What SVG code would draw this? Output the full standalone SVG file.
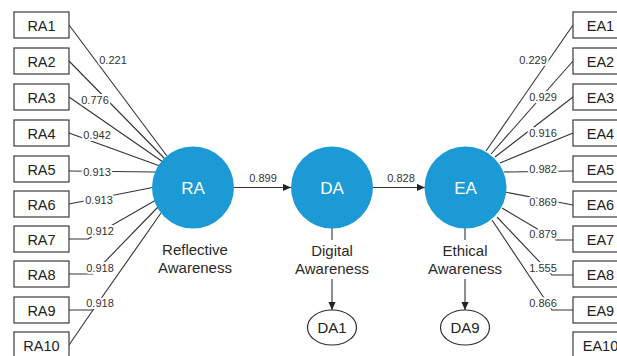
<svg xmlns="http://www.w3.org/2000/svg" width="617" height="356" viewBox="0 0 617 356">
  <defs>
    <style>
      .bg { fill: #ffffff; }
      .box rect { fill: #ffffff; stroke: #3a3a3a; stroke-width: 1.2; }
      .box text { font-family: "Liberation Sans", Arial, sans-serif; font-size: 14.5px; fill: #222; text-anchor: middle; }
      .lv circle { fill: #1b9ad6; }
      .lv text.in { font-family: "Liberation Sans", Arial, sans-serif; font-size: 17px; fill: #ffffff; text-anchor: middle; }
      .name { font-family: "Liberation Sans", Arial, sans-serif; font-size: 15px; fill: #2a2a2a; text-anchor: middle; }
      .ell ellipse { fill: #ffffff; stroke: #2a2a2a; stroke-width: 1.2; }
      .ell text { font-family: "Liberation Sans", Arial, sans-serif; font-size: 15px; fill: #222; text-anchor: middle; }
      .edge { fill: none; stroke: #333; stroke-width: 1.1; }
      .w { font-family: "Liberation Sans", Arial, sans-serif; font-size: 11px; fill: #333; text-anchor: middle;
           stroke: #ffffff; stroke-width: 4; paint-order: stroke; stroke-linejoin: round; }
    </style>
    <marker id="arr" viewBox="0 0 8 8" refX="8" refY="4" markerWidth="8" markerHeight="8" markerUnits="userSpaceOnUse" orient="auto">
      <path d="M0,0.4 L8,4 L0,7.6 Z" fill="#222"/>
    </marker>
  </defs>

  <rect class="bg" x="0" y="0" width="617" height="356"/>

  <!-- connectors -->
  <g id="connectors">
    <!-- RA indicators -->
    <path class="edge" d="M69,25 L167,156"/>
    <path class="edge" d="M69,61 L165,159"/>
    <path class="edge" d="M69,97 L163,162"/>
    <path class="edge" d="M69,133 L160,166"/>
    <path class="edge" d="M69,171 L155,172"/>
    <path class="edge" d="M69,204 L155,187"/>
    <path class="edge" d="M69,239 L88,239 L156,200"/>
    <path class="edge" d="M69,274 L93,274 L158,207"/>
    <path class="edge" d="M69,310 L93,310 L161,213"/>
    <path class="edge" d="M69,345 L93,310"/>
    <!-- EA indicators -->
    <path class="edge" d="M573,25 L486,151"/>
    <path class="edge" d="M573,61 L491,154"/>
    <path class="edge" d="M573,97 L495,157"/>
    <path class="edge" d="M573,133 L500,163"/>
    <path class="edge" d="M573,171 L504,172"/>
    <path class="edge" d="M573,205 L505,192"/>
    <path class="edge" d="M573,240 L556,240 L502,208"/>
    <path class="edge" d="M573,275 L552,275 L497,217"/>
    <path class="edge" d="M573,310 L552,310 L492,220"/>
    <!-- structural paths -->
    <path class="edge" d="M234,187.5 L291,187.5" marker-end="url(#arr)"/>
    <path class="edge" d="M373,187.5 L425,187.5" marker-end="url(#arr)"/>
    <!-- latent to observed -->
    <path class="edge" d="M332,228 L332,240"/>
    <path class="edge" d="M332,279 L332,310" marker-end="url(#arr)"/>
    <path class="edge" d="M465,228 L465,240"/>
    <path class="edge" d="M465,279 L465,310" marker-end="url(#arr)"/>

    <!-- loadings -->
    <text class="w" x="113" y="64">0.221</text>
    <text class="w" x="95" y="104">0.776</text>
    <text class="w" x="97" y="139">0.942</text>
    <text class="w" x="97" y="176">0.913</text>
    <text class="w" x="99" y="204">0.913</text>
    <text class="w" x="100" y="235">0.912</text>
    <text class="w" x="100" y="272">0.918</text>
    <text class="w" x="100" y="307">0.918</text>

    <text class="w" x="533" y="64">0.229</text>
    <text class="w" x="543" y="101">0.929</text>
    <text class="w" x="543" y="137">0.916</text>
    <text class="w" x="543" y="173">0.982</text>
    <text class="w" x="543" y="206">0.869</text>
    <text class="w" x="543" y="238">0.879</text>
    <text class="w" x="543" y="272">1.555</text>
    <text class="w" x="543" y="307">0.866</text>

    <text class="w" x="263" y="182">0.899</text>
    <text class="w" x="401" y="182">0.828</text>
  </g>

  <!-- RA indicator boxes -->
  <g id="RA1" class="box"><rect x="14" y="12" width="55" height="26"/><text x="41.5" y="30.5">RA1</text></g>
  <g id="RA2" class="box"><rect x="14" y="48" width="55" height="26"/><text x="41.5" y="66.5">RA2</text></g>
  <g id="RA3" class="box"><rect x="14" y="84" width="55" height="26"/><text x="41.5" y="102.5">RA3</text></g>
  <g id="RA4" class="box"><rect x="14" y="120" width="55" height="26"/><text x="41.5" y="138.5">RA4</text></g>
  <g id="RA5" class="box"><rect x="14" y="156" width="55" height="26"/><text x="41.5" y="174.5">RA5</text></g>
  <g id="RA6" class="box"><rect x="14" y="191" width="55" height="26"/><text x="41.5" y="209.5">RA6</text></g>
  <g id="RA7" class="box"><rect x="14" y="226" width="55" height="26"/><text x="41.5" y="244.5">RA7</text></g>
  <g id="RA8" class="box"><rect x="14" y="261" width="55" height="26"/><text x="41.5" y="279.5">RA8</text></g>
  <g id="RA9" class="box"><rect x="14" y="297" width="55" height="26"/><text x="41.5" y="315.5">RA9</text></g>
  <g id="RA10" class="box"><rect x="14" y="332" width="55" height="26"/><text x="41.5" y="350.5">RA10</text></g>

  <!-- EA indicator boxes -->
  <g id="EA1" class="box"><rect x="573" y="12" width="55" height="26"/><text x="600.5" y="30.5">EA1</text></g>
  <g id="EA2" class="box"><rect x="573" y="48" width="55" height="26"/><text x="600.5" y="66.5">EA2</text></g>
  <g id="EA3" class="box"><rect x="573" y="84" width="55" height="26"/><text x="600.5" y="102.5">EA3</text></g>
  <g id="EA4" class="box"><rect x="573" y="120" width="55" height="26"/><text x="600.5" y="138.5">EA4</text></g>
  <g id="EA5" class="box"><rect x="573" y="156" width="55" height="26"/><text x="600.5" y="174.5">EA5</text></g>
  <g id="EA6" class="box"><rect x="573" y="191" width="55" height="26"/><text x="600.5" y="209.5">EA6</text></g>
  <g id="EA7" class="box"><rect x="573" y="226" width="55" height="26"/><text x="600.5" y="244.5">EA7</text></g>
  <g id="EA8" class="box"><rect x="573" y="261" width="55" height="26"/><text x="600.5" y="279.5">EA8</text></g>
  <g id="EA9" class="box"><rect x="573" y="297" width="55" height="26"/><text x="600.5" y="315.5">EA9</text></g>
  <g id="EA10" class="box"><rect x="573" y="332" width="55" height="26"/><text x="600.5" y="350.5">EA10</text></g>

  <!-- latent variables -->
  <g id="RA" class="lv">
    <circle cx="193" cy="187.5" r="41"/>
    <text class="in" x="193" y="193.5">RA</text>
    <text class="name" x="195" y="255">Reflective</text>
    <text class="name" x="195" y="273">Awareness</text>
  </g>
  <g id="DA" class="lv">
    <circle cx="332" cy="187.5" r="41"/>
    <text class="in" x="332" y="193.5">DA</text>
    <text class="name" x="332" y="256">Digital</text>
    <text class="name" x="332" y="274">Awareness</text>
  </g>
  <g id="EA" class="lv">
    <circle cx="465.5" cy="187.5" r="41"/>
    <text class="in" x="465.5" y="193.5">EA</text>
    <text class="name" x="465" y="256">Ethical</text>
    <text class="name" x="465" y="274">Awareness</text>
  </g>

  <!-- observed items -->
  <g id="DA1" class="ell"><ellipse cx="332" cy="327.5" rx="24.5" ry="17.5"/><text x="332" y="333">DA1</text></g>
  <g id="DA9" class="ell"><ellipse cx="465" cy="327.5" rx="24.5" ry="17.5"/><text x="465" y="333">DA9</text></g>
</svg>
